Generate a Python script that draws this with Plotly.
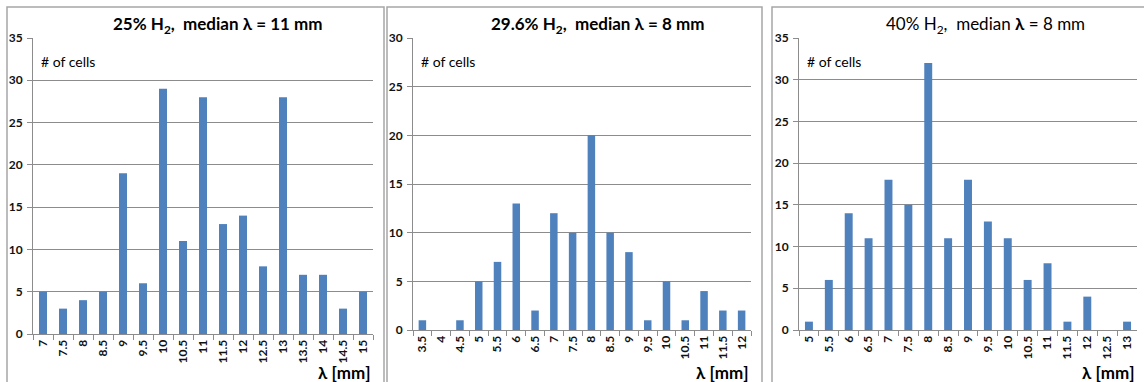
import plotly.graph_objects as go

W, H = 1144, 382

# ---- data ----
cats1 = ["7", "7.5", "8", "8.5", "9", "9.5", "10", "10.5", "11", "11.5", "12", "12.5", "13", "13.5", "14", "14.5", "15"]
vals1 = [5, 3, 4, 5, 19, 6, 29, 11, 28, 13, 14, 8, 28, 7, 7, 3, 5]

cats2 = ["3.5", "4", "4.5", "5", "5.5", "6", "6.5", "7", "7.5", "8", "8.5", "9", "9.5", "10", "10.5", "11", "11.5", "12"]
vals2 = [1, 0, 1, 5, 7, 13, 2, 12, 10, 20, 10, 8, 1, 5, 1, 4, 2, 2]

cats3 = ["5", "5.5", "6", "6.5", "7", "7.5", "8", "8.5", "9", "9.5", "10", "10.5", "11", "11.5", "12", "12.5", "13"]
vals3 = [1, 6, 14, 11, 18, 15, 32, 11, 18, 13, 11, 6, 8, 1, 4, 0, 1]

titles = ["<b>25% H<sub>2</sub>,  median λ = 11 mm</b>",
          "<b>29.6% H<sub>2</sub>,  median λ = 8 mm</b>",
          "40% H<sub>2</sub>,  median <b>λ</b> = 8 mm"]
ymax = [35, 30, 35]

BAR = "#4F81BD"
GRID = "#8C8C8C"
FONT = "Lato, Calibri, Carlito, sans-serif"

def px(x):
    return x / W

def py(y):
    return 1 - y / H

panels = [
    dict(x0=33, x1=373, ytop=38, ybot=334, tx=217, fx0=7, fx1=384),
    dict(x0=413, x1=751, ytop=38, ybot=330, tx=598, fx0=387, fx1=762),
    dict(x0=799, x1=1137, ytop=38, ybot=330, tx=985, fx0=772, fx1=1150),
]

fig = go.Figure()
data = [(cats1, vals1), (cats2, vals2), (cats3, vals3)]
annotations = []
shapes = []
for i, ((c, v), p) in enumerate(zip(data, panels)):
    n = "" if i == 0 else str(i + 1)
    fig.add_trace(go.Bar(x=c, y=v, marker=dict(color=BAR, line=dict(width=0)),
                         xaxis="x" + n, yaxis="y" + n, showlegend=False))
    fig.layout["xaxis" + n] = dict(
        domain=[px(p["x0"]), px(p["x1"])], anchor="y" + n, type="category",
        tickangle=-90, tickson="boundaries", ticks="outside", ticklen=5,
        tickcolor=GRID, showline=True, linecolor=GRID, linewidth=1,
        showgrid=False, tickfont=dict(family=FONT, size=12, color="#111", weight="bold"),
        automargin=False,
    )
    fig.layout["yaxis" + n] = dict(
        domain=[py(p["ybot"]), py(p["ytop"])], anchor="x" + n,
        range=[0, ymax[i]], dtick=5, ticks="outside", ticklen=5, tickcolor=GRID,
        showline=True, linecolor=GRID, linewidth=1, showgrid=True,
        gridcolor=GRID, gridwidth=1, zeroline=False,
        tickfont=dict(family=FONT, size=12, color="#111", weight="bold"),
        ticklabelstandoff=2, automargin=False,
    )
    annotations.append(dict(text=titles[i], x=px(p["tx"]), y=py(25), xref="paper", yref="paper",
                            xanchor="center", yanchor="middle", showarrow=False,
                            font=dict(family=FONT, size=17, color="black")))
    annotations.append(dict(text="# of cells", x=px(p["x0"] + 6), y=py(61), xref="paper", yref="paper",
                            xanchor="left", yanchor="middle", showarrow=False,
                            font=dict(family=FONT, size=14, color="black")))
    annotations.append(dict(text="<b>λ [mm]</b>", x=px(p["x1"]), y=py(372), xref="paper", yref="paper",
                            xanchor="right", yanchor="middle", showarrow=False,
                            font=dict(family=FONT, size=17, color="black")))
    shapes.append(dict(type="rect", xref="paper", yref="paper",
                       x0=px(p["fx0"]), x1=px(p["fx1"]), y0=py(400), y1=py(7),
                       line=dict(color="#A6A6A6", width=1.5)))

fig.update_layout(
    width=W, height=H, margin=dict(l=0, r=0, t=0, b=0, pad=0),
    paper_bgcolor="white", plot_bgcolor="white",
    bargap=0.6, annotations=annotations, shapes=shapes,
    font=dict(family=FONT),
)
fig.write_html("out.html")
